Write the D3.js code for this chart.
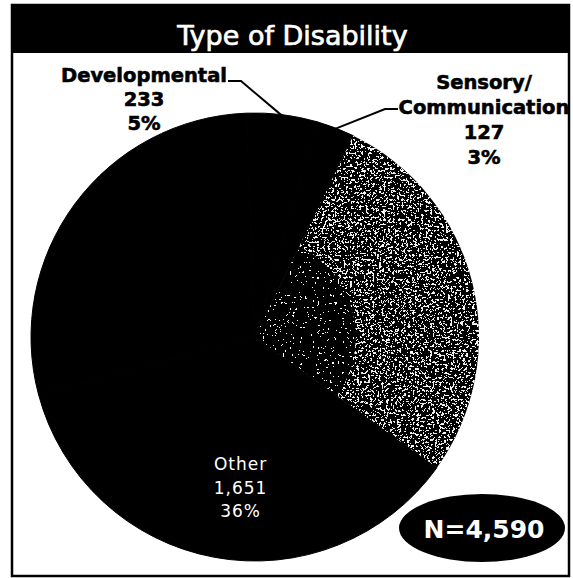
<!DOCTYPE html>
<html>
<head>
<meta charset="utf-8">
<script src="https://cdn.jsdelivr.net/npm/d3@7"></script>
<style>
  html, body { margin: 0; padding: 0; background: #fff; }
  svg { display: block; }
</style>
</head>
<body>
<svg id="chart" width="573" height="578"></svg>
<script>
// ---------------- data ----------------
const title = "Type of Disability";
// slice order, clockwise from the top of the pie
const categories = ["Developmental", "Sensory/Communication", "(unreadable grey slice)", "Other", "(unreadable black slice)"];
const values = [233, 127, 1271, 1651, 1308];
// label lines shown on the chart (null = label not legible in the source)
const labelNames = [["Developmental"], ["Sensory/", "Communication"], null, ["Other"], null];

// ---------------- layout / style ----------------
const frame = { x: 12, y: 5, w: 557, h: 571, titleH: 48 };
const cx = 255, cy = 337, R = 224;
const startDeg = -2.2;
const sliceFill = ["#000", "#000", "speckle", "#000", "#000"];

const svg = d3.select("#chart");
const fmtInt = d3.format(",");
const fmtPct = d3.format(".0%");
const total = d3.sum(values);

// defs: speckle filters to imitate the scanned grey slice
const defs = svg.append("defs");
function speckle(id, freq, seed, table, keepSource) {
  const f = defs.append("filter").attr("id", id)
    .attr("x", 0).attr("y", 0).attr("width", 1).attr("height", 1)
    .attr("color-interpolation-filters", "sRGB");
  f.append("feTurbulence").attr("type", "fractalNoise")
    .attr("baseFrequency", freq).attr("numOctaves", 2).attr("seed", seed).attr("result", "noise");
  f.append("feColorMatrix").attr("in", "noise").attr("type", "matrix")
    .attr("values", "0 0 0 0 1  0 0 0 0 1  0 0 0 0 1  1 0 0 0 0").attr("result", "wn");
  const ct = f.append("feComponentTransfer").attr("in", "wn").attr("result", "spk");
  ct.append("feFuncA").attr("type", "discrete").attr("tableValues", table);
  f.append("feComposite").attr("in", "spk").attr("in2", "SourceGraphic").attr("operator", "in").attr("result", "clip");
  const m = f.append("feMerge");
  if (keepSource) m.append("feMergeNode").attr("in", "SourceGraphic");
  m.append("feMergeNode").attr("in", "clip");
}
speckle("speckle", 0.4, 4, "0 0 0 0 0 0 0 1 1 1", true);
speckle("speckleOuter", 0.45, 11, "0 0 0 0 0 0 0.9 1 1 1", false);

// frame
svg.append("rect")
  .attr("x", frame.x).attr("y", frame.y).attr("width", frame.w).attr("height", frame.h)
  .attr("fill", "#fff").attr("stroke", "#000").attr("stroke-width", 2.5);
svg.append("rect")
  .attr("x", frame.x).attr("y", frame.y).attr("width", frame.w).attr("height", frame.titleH)
  .attr("fill", "#000");
svg.append("text")
  .attr("x", frame.x + frame.w / 2 + 2).attr("y", 45)
  .attr("text-anchor", "middle")
  .attr("font-family", "'DejaVu Sans', Verdana, sans-serif")
  .attr("font-size", 27)
  .attr("fill", "#fff")
  .attr("stroke", "#fff").attr("stroke-width", 0.7)
  .text(title);

// pie
const pie = d3.pie().sort(null).value(d => d)
  .startAngle(startDeg * Math.PI / 180)
  .endAngle(startDeg * Math.PI / 180 + 2 * Math.PI);
const arcs = pie(values);
const arc = d3.arc().innerRadius(0).outerRadius(R);
const arcOuter = d3.arc().innerRadius(R * 0.45).outerRadius(R);

const g = svg.append("g").attr("transform", `translate(${cx},${cy})`);
g.selectAll("path.slice").data(arcs).join("path")
  .attr("class", "slice")
  .attr("d", arc)
  .attr("fill", "#000")
  .attr("stroke", (d, i) => sliceFill[i] === "speckle" ? "none" : "#000")
  .attr("stroke-width", 1)
  .attr("filter", (d, i) => sliceFill[i] === "speckle" ? "url(#speckle)" : null);
// extra speckle toward the rim of the grey slice
g.selectAll("path.rim").data(arcs.filter((d, i) => sliceFill[i] === "speckle")).join("path")
  .attr("class", "rim")
  .attr("d", arcOuter)
  .attr("fill", "#000")
  .attr("filter", "url(#speckleOuter)");

// rim point at slice middle angle
function rimPoint(d, rr) {
  const a = (d.startAngle + d.endAngle) / 2;
  return [cx + rr * Math.sin(a), cy - rr * Math.cos(a)];
}

const boldFont = "'DejaVu Sans', Verdana, sans-serif";

function labelBlock(i, x, y0, step, opts) {
  const lines = labelNames[i].concat([fmtInt(values[i]), fmtPct(values[i] / total)]);
  const t = svg.append("g");
  lines.forEach((ln, k) => {
    t.append("text")
      .attr("x", x).attr("y", y0 + k * step)
      .attr("text-anchor", "middle")
      .attr("font-family", opts.family)
      .attr("font-weight", opts.weight)
      .attr("font-size", opts.size)
      .attr("letter-spacing", opts.ls || 0)
      .attr("fill", opts.fill)
      .attr("stroke", opts.stroke ? opts.fill : "none")
      .attr("stroke-width", opts.stroke || 0)
      .text(ln);
  });
}

// Developmental (outside, upper left)
labelBlock(0, 144, 82, 24, { family: boldFont, weight: "bold", size: 19.5, fill: "#000", stroke: 0.6 });
{
  const p = rimPoint(arcs[0], R - 1);
  svg.append("polyline")
    .attr("points", [[228, 81], [241, 81], p].map(q => q.join(",")).join(" "))
    .attr("fill", "none").attr("stroke", "#000").attr("stroke-width", 2);
}
// Sensory/Communication (outside, upper right)
labelBlock(1, 484, 89, 25, { family: boldFont, weight: "bold", size: 19.5, fill: "#000", stroke: 0.6 });
{
  const p = rimPoint(arcs[1], R - 1);
  svg.append("polyline")
    .attr("points", [[398, 109], [385, 109], p].map(q => q.join(",")).join(" "))
    .attr("fill", "none").attr("stroke", "#000").attr("stroke-width", 2);
}
// Other (inside, white)
{
  const p = rimPoint(arcs[3], R * 0.6);
  labelBlock(3, p[0] + 10, p[1] + 1, 23.5, { family: "'DejaVu Sans', sans-serif", weight: "normal", size: 17, fill: "#fff", ls: 1 });
}

// N = total badge
svg.append("ellipse")
  .attr("cx", 482).attr("cy", 528).attr("rx", 83).attr("ry", 34)
  .attr("fill", "#000");
svg.append("text")
  .attr("x", 484).attr("y", 538)
  .attr("text-anchor", "middle")
  .attr("font-family", boldFont)
  .attr("font-weight", "bold")
  .attr("font-size", 25)
  .attr("fill", "#fff")
  .text("N=" + fmtInt(total));
</script>
</body>
</html>
